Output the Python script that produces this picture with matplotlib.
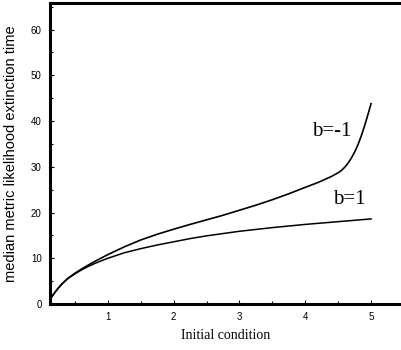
import matplotlib
matplotlib.use("Agg")
from matplotlib import pyplot as plt
from matplotlib.ticker import MultipleLocator

# values
x_neg = [0.12, 0.16, 0.2, 0.25, 0.3, 0.35, 0.4, 0.5, 0.6, 0.7, 0.8, 0.9, 1.0, 1.25,
         1.5, 1.75, 2.0, 2.25, 2.5, 2.75, 3.0, 3.25, 3.5, 3.75, 4.0, 4.2, 4.4,
         4.5, 4.55, 4.6, 4.65, 4.7, 4.75, 4.8, 4.85, 4.9, 4.95, 5.0]
y_neg = [1.0, 1.85, 2.65, 3.55, 4.35, 5.05, 5.7, 6.75, 7.65, 8.5, 9.3, 10.05, 10.8, 12.5,
         14.0, 15.25, 16.35, 17.4, 18.4, 19.4, 20.5, 21.6, 22.8, 24.1, 25.5, 26.6, 27.9,
         28.7, 29.2, 29.9, 30.8, 31.9, 33.2, 34.8, 36.7, 38.9, 41.3, 43.8]

x_pos = [0.12, 0.16, 0.2, 0.25, 0.3, 0.35, 0.4, 0.5, 0.6, 0.7, 0.8, 0.9, 1.0, 1.25,
         1.5, 1.75, 2.0, 2.25, 2.5, 2.75, 3.0, 3.5, 4.0, 4.5, 5.0]
y_pos = [1.0, 1.85, 2.65, 3.55, 4.35, 5.05, 5.65, 6.6, 7.45, 8.2, 8.85, 9.45, 10.0, 11.2,
         12.1, 12.9, 13.6, 14.3, 14.9, 15.4, 15.9, 16.7, 17.4, 18.0, 18.6]

labels = ["b=-1", "b=1"]
x_ticks = [1, 2, 3, 4, 5]
y_ticks = [0, 10, 20, 30, 40, 50, 60]

fig = plt.figure(figsize=(4.02, 3.5), dpi=100)
ax = fig.add_axes([50 / 402, 1 - 304 / 350, 352 / 402, 301 / 350])

ax.plot(x_neg, y_neg, color="black", lw=1.2)
ax.plot(x_pos, y_pos, color="black", lw=1.1)

ax.text(4.40, 37.6, labels[0], family="Liberation Serif", fontsize=15,
        ha="center", va="center")
ax.text(4.67, 22.9, labels[1], family="Liberation Serif", fontsize=15,
        ha="center", va="center")

ax.set_xlim(0.12, 5.47)
ax.set_ylim(0, 65.8)
ax.set_xticks(x_ticks)
ax.set_yticks(y_ticks)
ax.xaxis.set_minor_locator(MultipleLocator(0.5))
ax.yaxis.set_minor_locator(MultipleLocator(5))
ax.tick_params(which="major", direction="in", length=3, width=0.8, labelsize=7, pad=6)
ax.tick_params(which="minor", direction="in", length=2, width=0.8)
for lab in ax.get_xticklabels() + ax.get_yticklabels():
    lab.set_family("Liberation Sans")

for side in ["left", "bottom", "top"]:
    ax.spines[side].set_linewidth(2.2)
ax.spines["right"].set_visible(False)

ax.set_xlabel("Initial condition", family="Liberation Serif", fontsize=10, labelpad=5)
ax.set_ylabel("median metric likelihood extinction time", family="Liberation Sans",
              fontsize=10.5, labelpad=9)

fig.savefig("out.png", dpi=100)
